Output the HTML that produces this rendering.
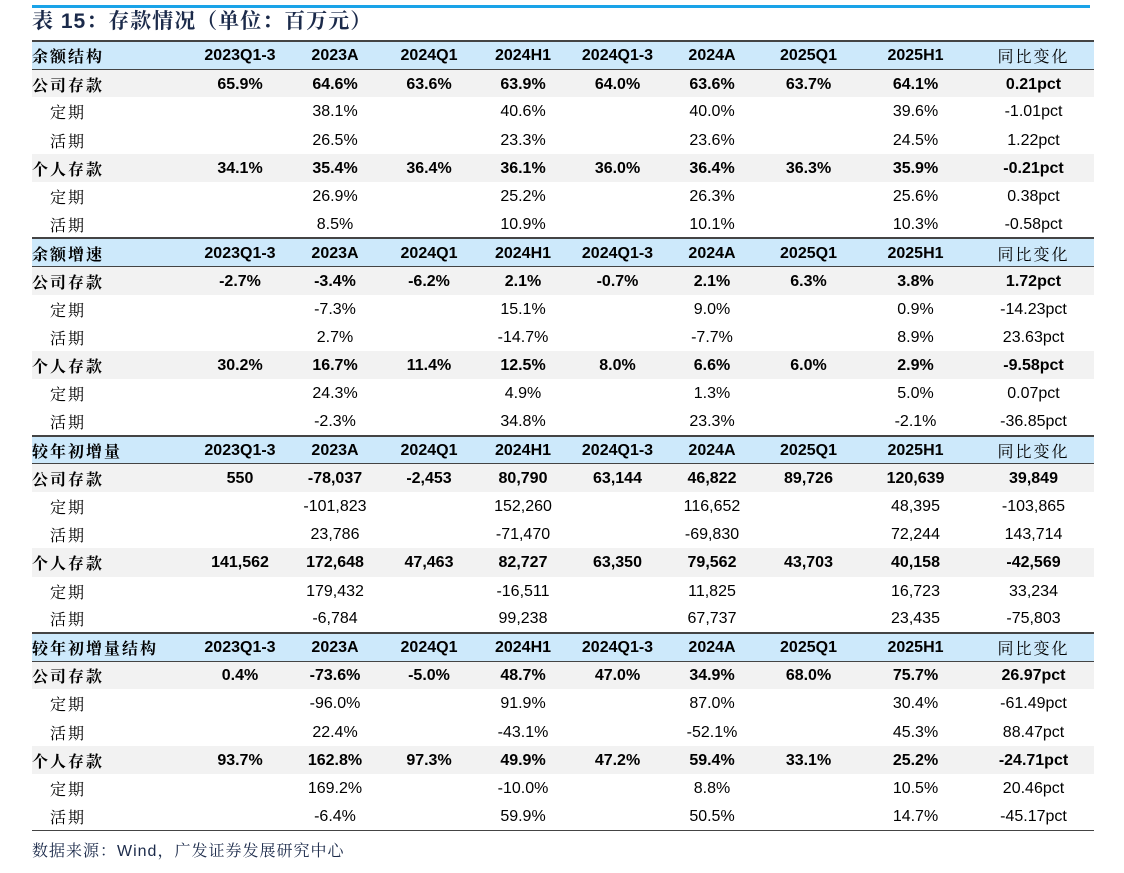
<!DOCTYPE html>
<html><head><meta charset="utf-8">
<style>
body{margin:0;width:1124px;height:873px;background:#fff;position:relative;overflow:hidden;font-family:"Liberation Sans","Noto Sans CJK SC",sans-serif;color:#000}
.topline{position:absolute;left:32px;top:5px;width:1058px;height:3px;background:#1aa3e8}
.title{position:absolute;left:32px;top:7px;font-size:21px;font-weight:bold;color:#1b2a4a;font-family:"Liberation Sans","Noto Serif CJK SC",serif;letter-spacing:1px;line-height:30px}
table{position:absolute;left:32px;top:40px;border-collapse:collapse;table-layout:fixed;width:1062px}
td{height:28.2px;padding:0;padding-top:2px;text-align:center;font-size:16px;line-height:20px;vertical-align:middle;white-space:nowrap;box-sizing:border-box}
td:first-child{text-align:left;font-family:"Noto Serif CJK SC","Liberation Serif",serif;font-size:16px;letter-spacing:2px}
tr.h td{background:#cde9fb;border-top:2px solid #444;border-bottom:1.5px solid #444;font-weight:bold}
tr.h td:last-child{font-weight:normal;font-family:"Noto Serif CJK SC",serif;letter-spacing:2px}
tr.b td{background:#f2f2f2;font-weight:bold}
tr.s td:first-child{padding-left:18px}
tr.last td{border-bottom:1.5px solid #444}
.src{position:absolute;left:32px;top:838px;font-size:16px;color:#1b2a4a;font-family:"Liberation Sans","Noto Serif CJK SC",serif;letter-spacing:1px}
</style></head><body>
<div class="topline"></div>
<div class="title">表 15：存款情况（单位：百万元）</div>
<table>
<colgroup><col style="width:160px"><col style="width:96px"><col style="width:94px"><col style="width:94px"><col style="width:94px"><col style="width:95px"><col style="width:94px"><col style="width:99px"><col style="width:115px"><col style="width:121px"></colgroup>
<tr class="h"><td>余额结构</td><td>2023Q1-3</td><td>2023A</td><td>2024Q1</td><td>2024H1</td><td>2024Q1-3</td><td>2024A</td><td>2025Q1</td><td>2025H1</td><td>同比变化</td></tr>
<tr class="b"><td>公司存款</td><td>65.9%</td><td>64.6%</td><td>63.6%</td><td>63.9%</td><td>64.0%</td><td>63.6%</td><td>63.7%</td><td>64.1%</td><td>0.21pct</td></tr>
<tr class="s"><td>定期</td><td></td><td>38.1%</td><td></td><td>40.6%</td><td></td><td>40.0%</td><td></td><td>39.6%</td><td>-1.01pct</td></tr>
<tr class="s"><td>活期</td><td></td><td>26.5%</td><td></td><td>23.3%</td><td></td><td>23.6%</td><td></td><td>24.5%</td><td>1.22pct</td></tr>
<tr class="b"><td>个人存款</td><td>34.1%</td><td>35.4%</td><td>36.4%</td><td>36.1%</td><td>36.0%</td><td>36.4%</td><td>36.3%</td><td>35.9%</td><td>-0.21pct</td></tr>
<tr class="s"><td>定期</td><td></td><td>26.9%</td><td></td><td>25.2%</td><td></td><td>26.3%</td><td></td><td>25.6%</td><td>0.38pct</td></tr>
<tr class="s"><td>活期</td><td></td><td>8.5%</td><td></td><td>10.9%</td><td></td><td>10.1%</td><td></td><td>10.3%</td><td>-0.58pct</td></tr>
<tr class="h"><td>余额增速</td><td>2023Q1-3</td><td>2023A</td><td>2024Q1</td><td>2024H1</td><td>2024Q1-3</td><td>2024A</td><td>2025Q1</td><td>2025H1</td><td>同比变化</td></tr>
<tr class="b"><td>公司存款</td><td>-2.7%</td><td>-3.4%</td><td>-6.2%</td><td>2.1%</td><td>-0.7%</td><td>2.1%</td><td>6.3%</td><td>3.8%</td><td>1.72pct</td></tr>
<tr class="s"><td>定期</td><td></td><td>-7.3%</td><td></td><td>15.1%</td><td></td><td>9.0%</td><td></td><td>0.9%</td><td>-14.23pct</td></tr>
<tr class="s"><td>活期</td><td></td><td>2.7%</td><td></td><td>-14.7%</td><td></td><td>-7.7%</td><td></td><td>8.9%</td><td>23.63pct</td></tr>
<tr class="b"><td>个人存款</td><td>30.2%</td><td>16.7%</td><td>11.4%</td><td>12.5%</td><td>8.0%</td><td>6.6%</td><td>6.0%</td><td>2.9%</td><td>-9.58pct</td></tr>
<tr class="s"><td>定期</td><td></td><td>24.3%</td><td></td><td>4.9%</td><td></td><td>1.3%</td><td></td><td>5.0%</td><td>0.07pct</td></tr>
<tr class="s"><td>活期</td><td></td><td>-2.3%</td><td></td><td>34.8%</td><td></td><td>23.3%</td><td></td><td>-2.1%</td><td>-36.85pct</td></tr>
<tr class="h"><td>较年初增量</td><td>2023Q1-3</td><td>2023A</td><td>2024Q1</td><td>2024H1</td><td>2024Q1-3</td><td>2024A</td><td>2025Q1</td><td>2025H1</td><td>同比变化</td></tr>
<tr class="b"><td>公司存款</td><td>550</td><td>-78,037</td><td>-2,453</td><td>80,790</td><td>63,144</td><td>46,822</td><td>89,726</td><td>120,639</td><td>39,849</td></tr>
<tr class="s"><td>定期</td><td></td><td>-101,823</td><td></td><td>152,260</td><td></td><td>116,652</td><td></td><td>48,395</td><td>-103,865</td></tr>
<tr class="s"><td>活期</td><td></td><td>23,786</td><td></td><td>-71,470</td><td></td><td>-69,830</td><td></td><td>72,244</td><td>143,714</td></tr>
<tr class="b"><td>个人存款</td><td>141,562</td><td>172,648</td><td>47,463</td><td>82,727</td><td>63,350</td><td>79,562</td><td>43,703</td><td>40,158</td><td>-42,569</td></tr>
<tr class="s"><td>定期</td><td></td><td>179,432</td><td></td><td>-16,511</td><td></td><td>11,825</td><td></td><td>16,723</td><td>33,234</td></tr>
<tr class="s"><td>活期</td><td></td><td>-6,784</td><td></td><td>99,238</td><td></td><td>67,737</td><td></td><td>23,435</td><td>-75,803</td></tr>
<tr class="h"><td>较年初增量结构</td><td>2023Q1-3</td><td>2023A</td><td>2024Q1</td><td>2024H1</td><td>2024Q1-3</td><td>2024A</td><td>2025Q1</td><td>2025H1</td><td>同比变化</td></tr>
<tr class="b"><td>公司存款</td><td>0.4%</td><td>-73.6%</td><td>-5.0%</td><td>48.7%</td><td>47.0%</td><td>34.9%</td><td>68.0%</td><td>75.7%</td><td>26.97pct</td></tr>
<tr class="s"><td>定期</td><td></td><td>-96.0%</td><td></td><td>91.9%</td><td></td><td>87.0%</td><td></td><td>30.4%</td><td>-61.49pct</td></tr>
<tr class="s"><td>活期</td><td></td><td>22.4%</td><td></td><td>-43.1%</td><td></td><td>-52.1%</td><td></td><td>45.3%</td><td>88.47pct</td></tr>
<tr class="b"><td>个人存款</td><td>93.7%</td><td>162.8%</td><td>97.3%</td><td>49.9%</td><td>47.2%</td><td>59.4%</td><td>33.1%</td><td>25.2%</td><td>-24.71pct</td></tr>
<tr class="s"><td>定期</td><td></td><td>169.2%</td><td></td><td>-10.0%</td><td></td><td>8.8%</td><td></td><td>10.5%</td><td>20.46pct</td></tr>
<tr class="s last"><td>活期</td><td></td><td>-6.4%</td><td></td><td>59.9%</td><td></td><td>50.5%</td><td></td><td>14.7%</td><td>-45.17pct</td></tr>
</table>
<div class="src">数据来源：Wind，广发证券发展研究中心</div>
</body></html>
